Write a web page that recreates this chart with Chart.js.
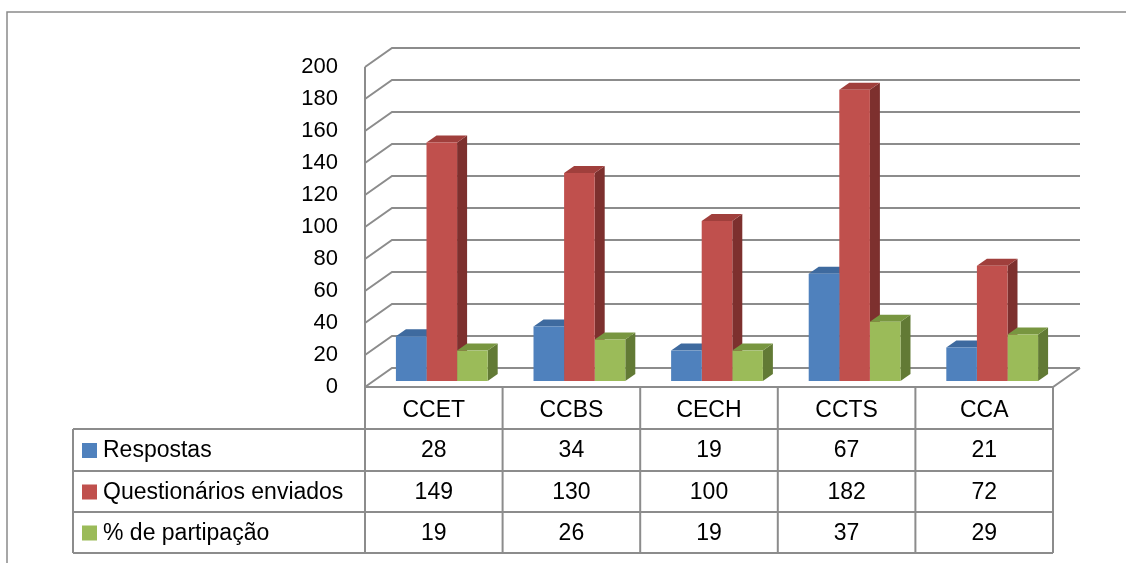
<!DOCTYPE html>
<html lang="pt">
<head>
<meta charset="utf-8">
<title>Participação por centro</title>
<script src="https://cdn.jsdelivr.net/npm/chart.js@4.4.1/dist/chart.umd.min.js"></script>
<style>
  html, body { margin: 0; padding: 0; background: #fff; }
  #wrap { width: 1126px; height: 563px; position: relative; }
</style>
</head>
<body>
<div id="wrap"><canvas id="chart"></canvas></div>
<script>
// dados
const categorias = ['CCET', 'CCBS', 'CECH', 'CCTS', 'CCA'];
const respostas = [28, 34, 19, 67, 21];
const questionarios = [149, 130, 100, 182, 72];
const participacao = [19, 26, 19, 37, 29];
const nomesSeries = ['Respostas', 'Questionários enviados', '% de partipação'];
const eixoMax = 200;
const eixoPasso = 20;

const FONTE = '"Liberation Sans", Arial, sans-serif';
const CINZA = '#8c8c8c';

// deslocamentos da "caixa" 3D em relação ao plano das barras
const FRENTE = { dx: -8, dy: 6 };
const FUNDO = { dx: 19, dy: -13 };
const PROF = { dx: 10, dy: -7 };

const cores = [
    { front: '#4f81bd', top: '#3e6a9f', side: '#385d8a' },
    { front: '#c0504d', top: '#a03f3c', side: '#7d302e' },
    { front: '#9bbb59', top: '#789640', side: '#627a35' }
];

const caixa3d = {
    id: 'caixa3d',
    beforeDatasetsDraw(chart) {
        const { ctx, chartArea: a, scales: { y } } = chart;
        const y0 = y.getPixelForValue(0);
        ctx.save();
        ctx.strokeStyle = CINZA;
        ctx.lineWidth = 2;

        // linhas de grade (parede lateral + fundo)
        y.ticks.forEach(t => {
            const py = y.getPixelForValue(t.value);
            ctx.beginPath();
            ctx.moveTo(a.left + FRENTE.dx, py + FRENTE.dy);
            ctx.lineTo(a.left + FUNDO.dx, py + FUNDO.dy);
            ctx.lineTo(a.right + FUNDO.dx, py + FUNDO.dy);
            ctx.stroke();
        });
        // aresta vertical da parede
        ctx.beginPath();
        ctx.moveTo(a.left + FRENTE.dx, y.getPixelForValue(eixoMax) + FRENTE.dy);
        ctx.lineTo(a.left + FRENTE.dx, y0 + FRENTE.dy);
        ctx.stroke();
        // piso
        ctx.beginPath();
        ctx.moveTo(a.left + FRENTE.dx, y0 + FRENTE.dy);
        ctx.lineTo(a.right + FRENTE.dx, y0 + FRENTE.dy);
        ctx.lineTo(a.right + FUNDO.dx, y0 + FUNDO.dy);
        ctx.stroke();

        // faces de topo e lateral das barras (a frente é desenhada pelo Chart.js)
        chart.data.datasets.forEach((ds, i) => {
            const meta = chart.getDatasetMeta(i);
            meta.data.forEach(bar => {
                const { x, y: top, base, width } = bar.getProps(['x', 'y', 'base', 'width'], true);
                const l = x - width / 2, r = x + width / 2;
                ctx.fillStyle = cores[i].side;
                ctx.beginPath();
                ctx.moveTo(r, top);
                ctx.lineTo(r + PROF.dx, top + PROF.dy);
                ctx.lineTo(r + PROF.dx, base + PROF.dy);
                ctx.lineTo(r, base);
                ctx.closePath();
                ctx.fill();
                ctx.fillStyle = cores[i].top;
                ctx.beginPath();
                ctx.moveTo(l, top);
                ctx.lineTo(l + PROF.dx, top + PROF.dy);
                ctx.lineTo(r + PROF.dx, top + PROF.dy);
                ctx.lineTo(r, top);
                ctx.closePath();
                ctx.fill();
            });
        });
        ctx.restore();
    },
    afterDraw(chart) {
        const { ctx, chartArea: a, scales: { x, y } } = chart;
        const y0 = y.getPixelForValue(0) + FRENTE.dy;
        const passo = (a.right - a.left) / categorias.length;
        const colunas = categorias.map((c, i) => x.getPixelForValue(i) - passo / 2 + FRENTE.dx);
        colunas.push(a.right + FRENTE.dx);
        const esq = 73;
        const linhas = [y0, 429, 471, 512, 553];
        const series = [respostas, questionarios, participacao];

        ctx.save();
        // moldura externa
        ctx.strokeStyle = '#8a8a8a';
        ctx.lineWidth = 1.5;
        ctx.beginPath();
        ctx.moveTo(7, 563);
        ctx.lineTo(7, 12);
        ctx.lineTo(1126, 12);
        ctx.stroke();

        // grade da tabela
        ctx.strokeStyle = CINZA;
        ctx.lineWidth = 2;
        ctx.beginPath();
        colunas.forEach(cx => { ctx.moveTo(cx, y0); ctx.lineTo(cx, linhas[4]); });
        ctx.moveTo(esq, linhas[1]);
        ctx.lineTo(esq, linhas[4]);
        for (let k = 1; k < linhas.length; k++) {
            ctx.moveTo(esq, linhas[k]);
            ctx.lineTo(colunas[colunas.length - 1], linhas[k]);
        }
        ctx.stroke();

        // textos
        ctx.fillStyle = '#000';
        ctx.font = '23px ' + FONTE;
        ctx.textBaseline = 'middle';
        ctx.textAlign = 'center';
        categorias.forEach((c, i) => {
            const cx = (colunas[i] + colunas[i + 1]) / 2;
            ctx.fillText(c, cx, (linhas[0] + linhas[1]) / 2 + 3);
            series.forEach((s, k) => {
                ctx.fillText(String(s[i]), cx, (linhas[k + 1] + linhas[k + 2]) / 2 + 1);
            });
        });
        ctx.textAlign = 'left';
        nomesSeries.forEach((n, k) => {
            const cy = (linhas[k + 1] + linhas[k + 2]) / 2;
            ctx.fillStyle = cores[k].front;
            ctx.fillRect(82, cy - 7, 15, 15);
            ctx.fillStyle = '#000';
            ctx.fillText(n, 103, cy + 1);
        });
        ctx.restore();
    }
};

new Chart(document.getElementById('chart'), {
    type: 'bar',
    data: {
        labels: categorias,
        datasets: [
            { label: nomesSeries[0], data: respostas, backgroundColor: cores[0].front },
            { label: nomesSeries[1], data: questionarios, backgroundColor: cores[1].front },
            { label: nomesSeries[2], data: participacao, backgroundColor: cores[2].front }
        ]
    },
    options: {
        responsive: true,
        maintainAspectRatio: false,
        animation: false,
        devicePixelRatio: 1,
        layout: { padding: { left: 0, top: 61, right: 65, bottom: 182 } },
        datasets: { bar: { categoryPercentage: 0.667, barPercentage: 1.0, borderWidth: 0 } },
        plugins: { legend: { display: false }, tooltip: { enabled: false } },
        scales: {
            x: { display: false, offset: true },
            y: {
                min: 0,
                max: eixoMax,
                afterFit: s => { s.width = 373; },
                border: { display: false },
                grid: { display: false, drawTicks: false },
                ticks: {
                    stepSize: eixoPasso,
                    padding: 35,
                    labelOffset: 6,
                    color: '#000',
                    font: { family: FONTE, size: 22 }
                }
            }
        }
    },
    plugins: [caixa3d]
});
</script>
</body>
</html>
